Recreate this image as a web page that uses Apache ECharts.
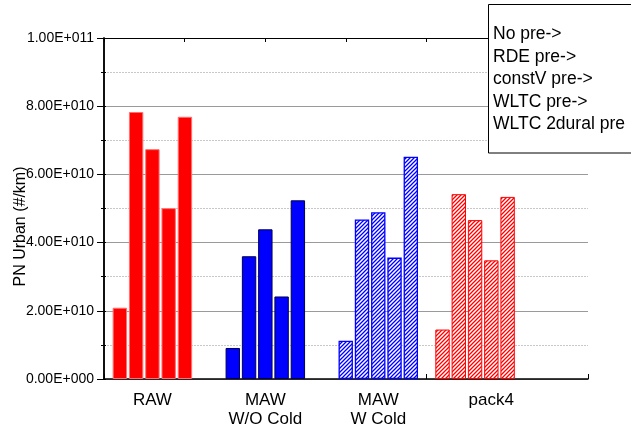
<!DOCTYPE html>
<html>
<head>
<meta charset="utf-8">
<script src="https://cdn.jsdelivr.net/npm/echarts@6/dist/echarts.min.js"></script>
<style>html,body{margin:0;padding:0;background:#fff}#c{width:631px;height:431px}</style>
</head>
<body>
<div id="c"></div>
<script>
// ---- data ----
const groups = ['RAW', 'MAW\nW/O Cold', 'MAW\nW Cold', 'pack4'];
const groupX = [3, 10, 17, 23];          // group positions on the x scale
const labelX = [3, 10, 17, 24];          // category label positions
const seriesNames = ['No pre->', 'RDE pre->', 'constV pre->', 'WLTC pre->', 'WLTC 2dural pre'];
const noPre      = [2.09e10, 0.91e10, 1.12e10, 1.45e10];
const rdePre     = [7.83e10, 3.60e10, 4.68e10, 5.42e10];
const constVPre  = [6.74e10, 4.39e10, 4.89e10, 4.66e10];
const wltcPre    = [5.01e10, 2.42e10, 3.56e10, 3.48e10];
const wltc2dural = [7.69e10, 5.24e10, 6.52e10, 5.34e10];
const seriesValues = [noPre, rdePre, constVPre, wltcPre, wltc2dural];
const yMin = 0, yMax = 1e11, yStep = 2e10;

// ---- styles ----
function hatch(color) {
  const c = document.createElement('canvas');
  c.width = 4; c.height = 4;
  const g = c.getContext('2d');
  g.fillStyle = '#fff'; g.fillRect(0, 0, 4, 4);
  g.strokeStyle = color; g.lineWidth = 1.3;
  g.beginPath();
  g.moveTo(-1, 5); g.lineTo(5, -1);
  g.moveTo(-1, 1); g.lineTo(1, -1);
  g.moveTo(3, 5); g.lineTo(5, 3);
  g.stroke();
  return { image: c, repeat: 'repeat' };
}
const groupStyles = [
  { color: '#ff0000', borderColor: '#ff7070', borderWidth: 1 },
  { color: '#0000ff', borderColor: '#000050', borderWidth: 1 },
  { color: hatch('#0000ff'), borderColor: '#0000ff', borderWidth: 1.3 },
  { color: hatch('#ff0000'), borderColor: '#ff0000', borderWidth: 1 }
];

function sci(v) {
  if (v === 0) return '0.00E+000';
  const e = Math.floor(Math.log10(v) + 1e-9);
  const m = v / Math.pow(10, e);
  return m.toFixed(2) + 'E+' + String(e).padStart(3, '0');
}

const font = 'Liberation Sans, Arial, sans-serif';
const chart = echarts.init(document.getElementById('c'));
chart.setOption({
  animation: false,
  backgroundColor: '#fff',
  textStyle: { fontFamily: font },
  grid: { left: 104, right: 43, top: 38, bottom: 52, containLabel: false, outerBoundsMode: 'none' },
  legend: {
    data: seriesNames,
    orient: 'vertical',
    left: 488, top: 23,
    padding: 0,
    itemGap: 0,
    itemWidth: 0, itemHeight: 0,
    icon: 'rect',
    selectedMode: false,
    z: 60,
    textStyle: { fontFamily: font, fontSize: 17.5, color: '#000', lineHeight: 22.5 }
  },
  graphic: [{
    type: 'rect', z: 50,
    shape: { x: 488.5, y: 4.5, width: 200, height: 148.5 },
    style: { fill: '#fff', stroke: '#000', lineWidth: 1 }
  }],
  xAxis: [
    {
      type: 'value', min: 0, max: 30, interval: 5, position: 'bottom',
      axisLine: { show: true, onZero: false, lineStyle: { color: '#000', width: 1.5 } },
      axisTick: { show: true, inside: true, length: 5, lineStyle: { color: '#000' } },
      axisLabel: { show: false }, splitLine: { show: false }
    },
    {
      type: 'value', min: 0, max: 30, interval: 1, position: 'bottom',
      axisLine: { show: false }, axisTick: { show: false }, splitLine: { show: false },
      axisLabel: {
        show: true, margin: 12, color: '#000', fontFamily: font, fontSize: 17, lineHeight: 19,
        formatter: v => { const i = labelX.indexOf(Math.round(v)); return i >= 0 ? groups[i] : ''; }
      }
    },
    {
      type: 'value', min: 0, max: 30, interval: 5, position: 'top',
      axisLine: { show: true, onZero: false, lineStyle: { color: '#000', width: 1.2 } },
      axisTick: { show: true, inside: true, length: 4, lineStyle: { color: '#000' } },
      axisLabel: { show: false }, splitLine: { show: false }
    }
  ],
  yAxis: [
    {
      type: 'value', min: yMin, max: yMax, interval: yStep, position: 'left',
      name: 'PN Urban (#/km)', nameLocation: 'middle', nameGap: 75, nameRotate: 90,
      nameMoveOverlap: false,
      nameTextStyle: { fontFamily: font, fontSize: 16, color: '#000', padding: [0, 36, 0, 0] },
      axisLine: { show: true, lineStyle: { color: '#000', width: 1.5 } },
      axisTick: { show: true, length: 7, lineStyle: { color: '#000' } },
      minorTick: { show: true, splitNumber: 2, length: 3, lineStyle: { color: '#000' } },
      axisLabel: { color: '#000', fontFamily: font, fontSize: 14, margin: 10, formatter: sci },
      splitLine: { show: true, lineStyle: { color: '#9a9a9a', width: 1.2 } },
      minorSplitLine: { show: true, lineStyle: { color: '#c8c8c8', type: [2, 1], width: 1 } }
    },
    {
      type: 'value', min: yMin, max: yMax, interval: yStep, position: 'right',
      axisLine: { show: true, lineStyle: { color: '#000', width: 1.5 } },
      axisTick: { show: true, length: 2, lineStyle: { color: '#000' } },
      minorTick: { show: true, splitNumber: 2, length: 2, lineStyle: { color: '#000' } },
      axisLabel: { show: false }, splitLine: { show: false }
    }
  ],
  series: seriesNames.map((name, s) => ({
    name, type: 'bar', xAxisIndex: 0, yAxisIndex: 0,
    barWidth: 14.4, barGap: '13%',
    data: seriesValues[s].map((v, g) => ({ value: [groupX[g], v], itemStyle: groupStyles[g] }))
  }))
});
</script>
</body>
</html>
